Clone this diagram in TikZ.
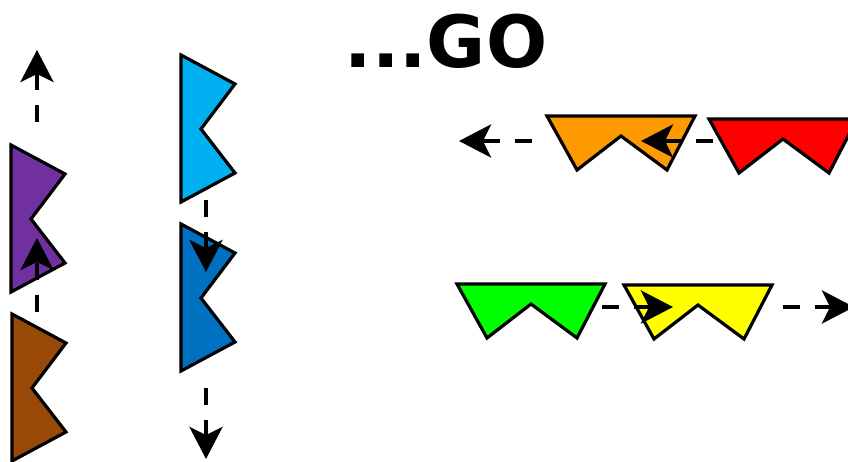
\documentclass[tikz,border=0pt]{standalone}
\usepackage{fontspec}
\setsansfont{DejaVu Sans}
\usetikzlibrary{arrows.meta}
\definecolor{flagpurple}{HTML}{7030A0}
\definecolor{flagbrown}{HTML}{984807}
\definecolor{flagcyan}{HTML}{00B0F0}
\definecolor{flagblue}{HTML}{0070C0}
\definecolor{flagorange}{HTML}{FF9900}
\definecolor{flagred}{HTML}{FF0000}
\definecolor{flaggreen}{HTML}{00FF00}
\definecolor{flagyellow}{HTML}{FFFF00}
\tikzset{
	flag/.style = {draw = black, line width = 3.2pt, line join = miter},
	move/.style = {line width = 4pt, dash pattern = on 17pt off 15pt,
		-{Stealth[length = 32pt, width = 33pt, inset = 8pt]}},
	vflag/.pic = {\path [pic actions] (0,0) -- ++(54,29) -- ++(-34,45) -- ++(34,44) -- ++(-54,29) -- cycle;},
	hflag/.pic = {\path [pic actions] (0,0) -- ++(148,0) -- ++(-28,54) -- ++(-46,-34) -- ++(-44,34) -- cycle;}
}
\begin{document}
\begin{tikzpicture}[x = 1pt, y = -1pt]
	\useasboundingbox (0,0) rectangle (848,462);
	% title
	\node [anchor = base, inner sep = 0pt, font = \sffamily\bfseries\fontsize{72}{72}\selectfont] (go) at (446,68) {...GO};
	% flags
	\pic [flag, fill = flagpurple] at (11,145) {vflag};
	\pic [flag, fill = flagbrown] at (12,314) {vflag};
	\pic [flag, fill = flagcyan] at (181,55) {vflag};
	\pic [flag, fill = flagblue] at (181,224) {vflag};
	\pic [flag, fill = flagorange] at (547,116) {hflag};
	\pic [flag, fill = flagred] at (709,119) {hflag};
	\pic [flag, fill = flaggreen] at (457,284) {hflag};
	\pic [flag, fill = flagyellow] at (624,285) {hflag};
	% arrow ends
	\coordinate (purple-top) at (37,122);
	\coordinate (purple-goal) at (37,50);
	\coordinate (brown-top) at (37,312);
	\coordinate (brown-goal) at (37,238);
	\coordinate (cyan-bottom) at (206,200);
	\coordinate (cyan-goal) at (206,272);
	\coordinate (blue-bottom) at (206,388);
	\coordinate (blue-goal) at (206,459);
	\coordinate (orange-left) at (532,141);
	\coordinate (orange-goal) at (459,141);
	\coordinate (red-left) at (713,141);
	\coordinate (red-goal) at (641,141);
	\coordinate (green-right) at (602,307);
	\coordinate (green-goal) at (673,307);
	\coordinate (yellow-right) at (783,307);
	\coordinate (yellow-goal) at (854,307);
	% moves
	\draw [move] (purple-top) -- (purple-goal);
	\draw [move] (brown-top) -- (brown-goal);
	\draw [move] (cyan-bottom) -- (cyan-goal);
	\draw [move] (blue-bottom) -- (blue-goal);
	\draw [move] (orange-left) -- (orange-goal);
	\draw [move] (red-left) -- (red-goal);
	\draw [move] (green-right) -- (green-goal);
	\draw [move] (yellow-right) -- (yellow-goal);
\end{tikzpicture}
\end{document}
